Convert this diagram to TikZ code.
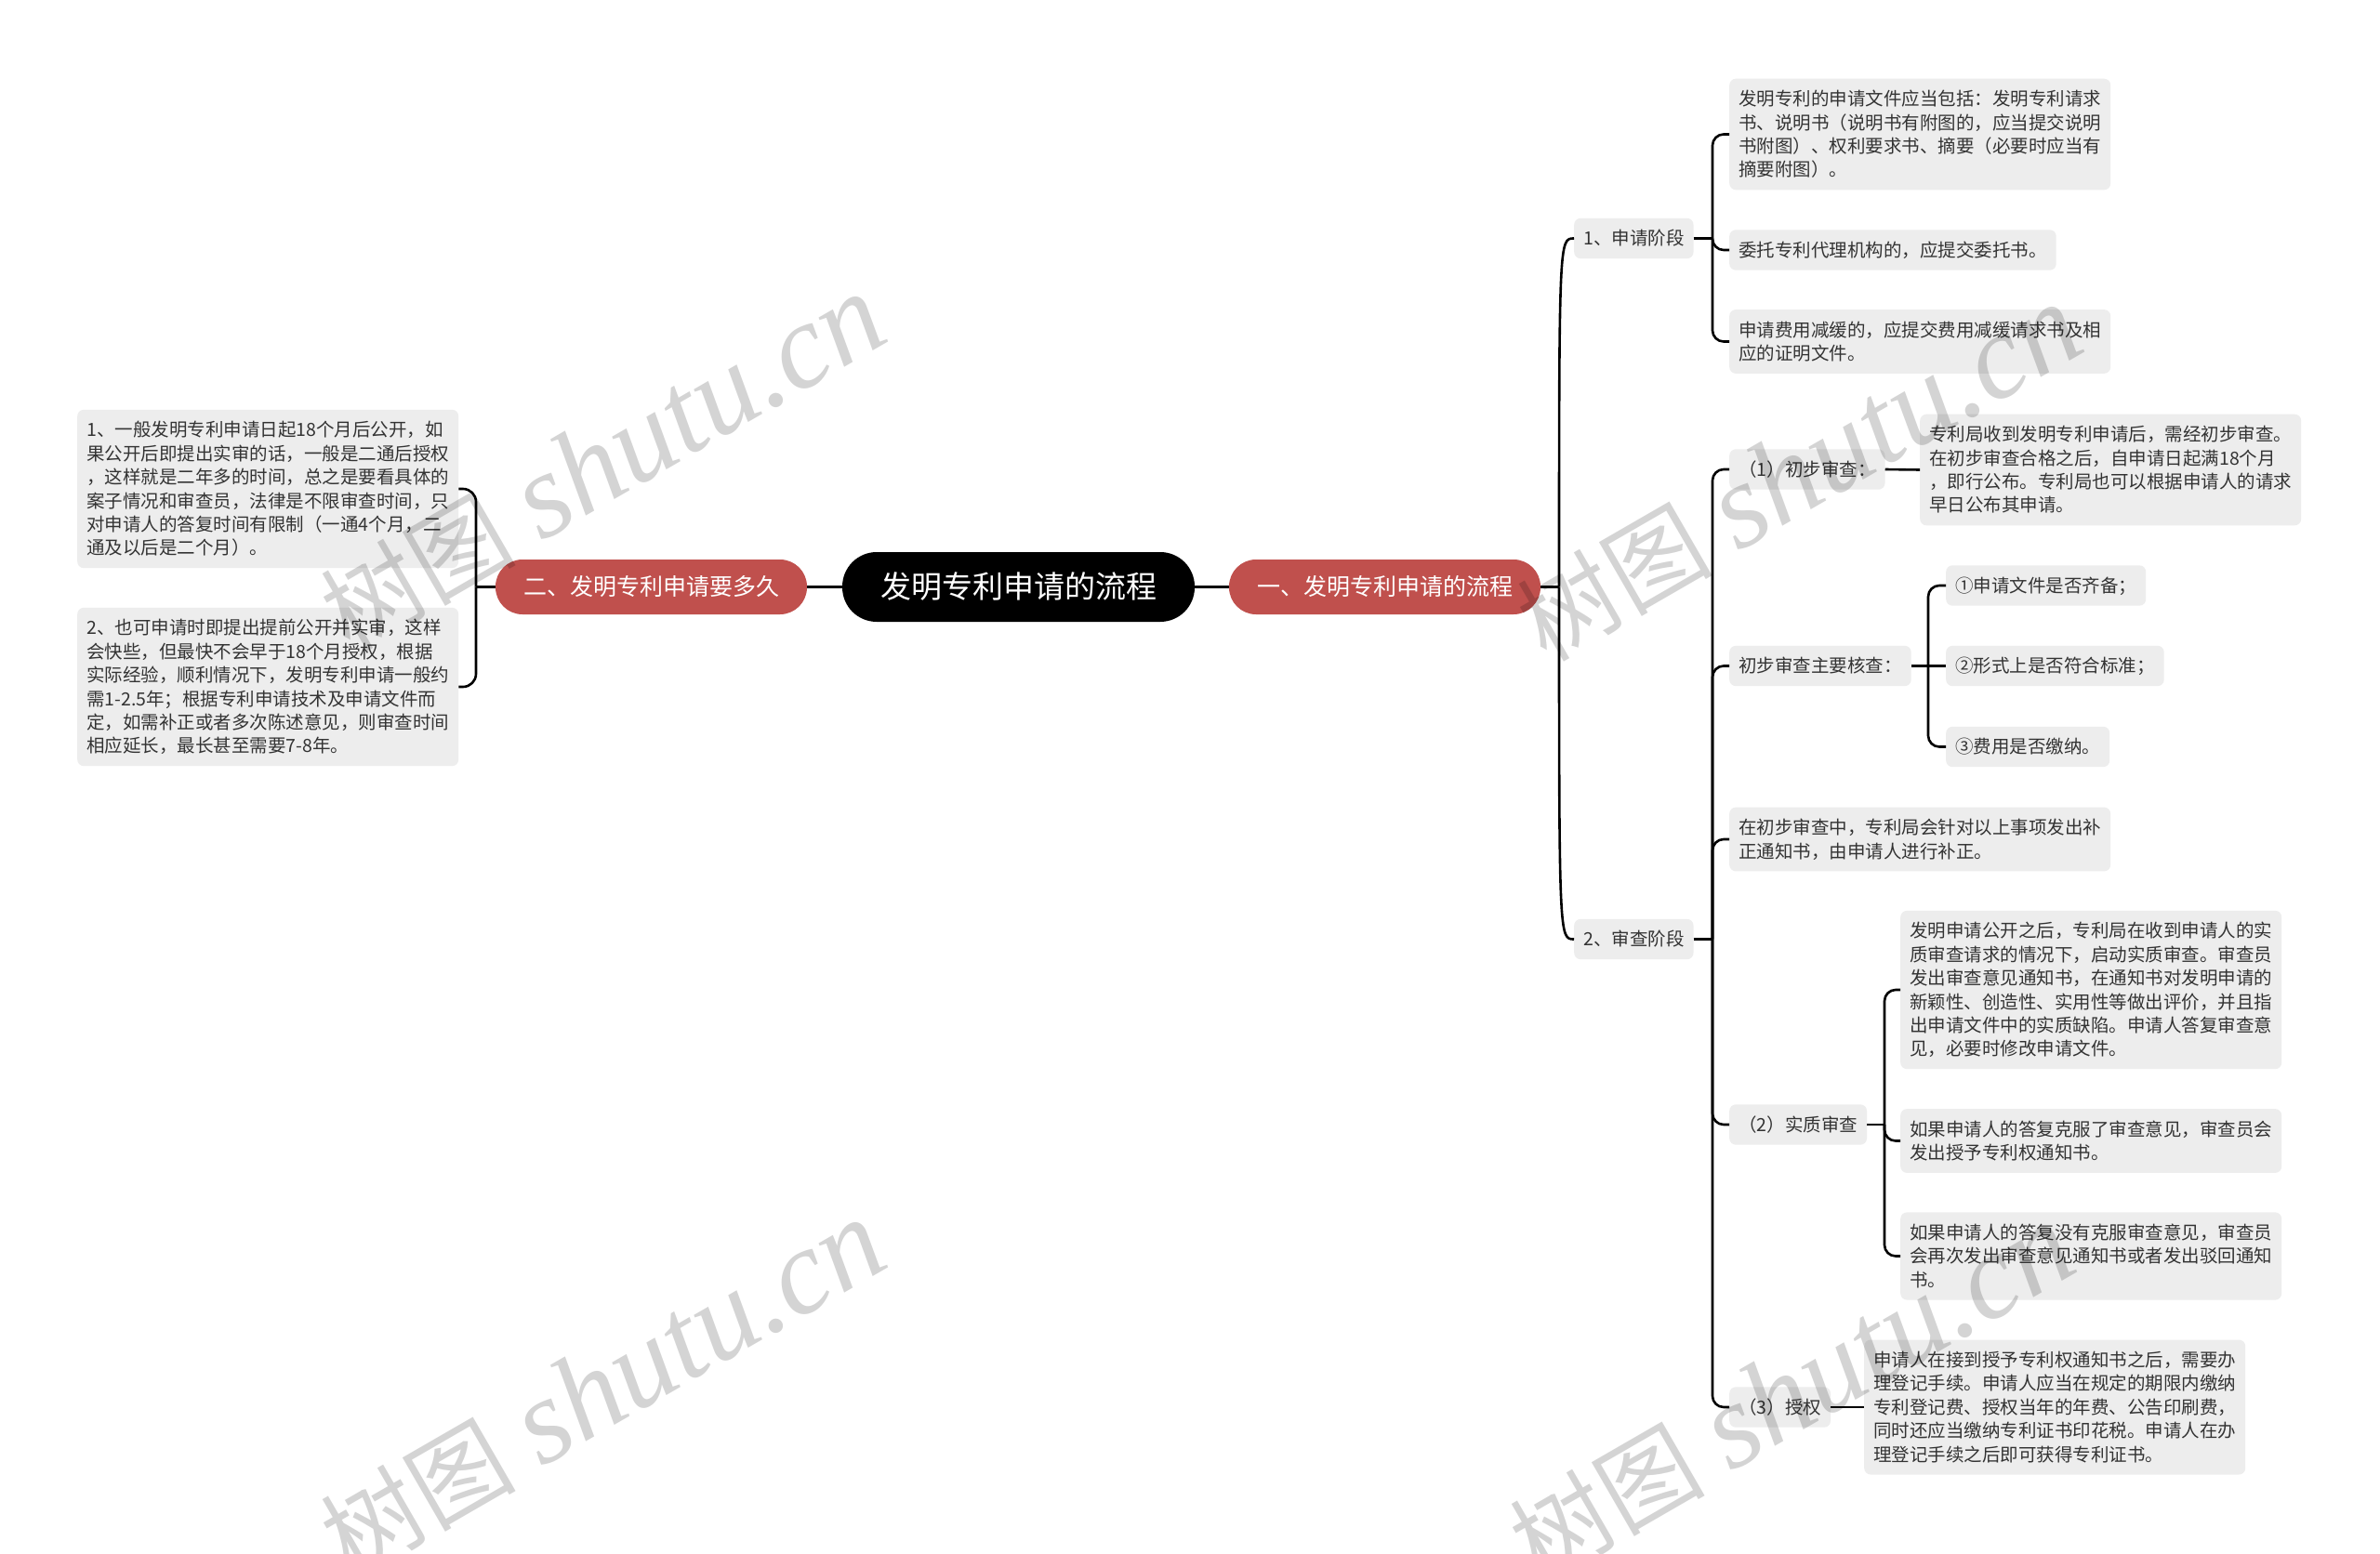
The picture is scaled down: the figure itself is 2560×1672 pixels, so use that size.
\documentclass[tikz,border=0pt]{standalone}
\usepackage{fontspec}
\setmainfont{Noto Sans CJK SC}
\newfontfamily\wmserif{Liberation Serif}
\definecolor{boxgray}{HTML}{EDEDED}
\definecolor{txt}{HTML}{333333}
\definecolor{rednode}{HTML}{C0504D}
\newcommand\ks{\rule[-5.4pt]{0pt}{25.4pt}}
\newcommand\bodyfont{\fontsize{19.5pt}{25.4pt}\selectfont}
\newcommand\wmtext{{\fontsize{105pt}{120pt}\selectfont 树图}\hspace{28pt}{\wmserif\itshape\fontsize{130pt}{150pt}\selectfont shutu.cn}}
\tikzset{
  box/.style={fill=boxgray, rounded corners=7pt, inner xsep=10pt, inner ysep=9pt, align=left, font=\bodyfont, text=txt, anchor=west},
  conn/.style={line width=2.6pt, draw=black},
  rednd/.style={fill=rednode, text=white, rounded corners=29pt, minimum width=335pt, minimum height=59pt, font=\fontsize{25pt}{30pt}\selectfont, inner sep=0pt},
  rootnd/.style={fill=black, text=white, rounded corners=37pt, minimum width=379pt, minimum height=75pt, font=\fontsize{33pt}{40pt}\selectfont, inner sep=0pt},
  wm/.style={rotate=30, text=black, text opacity=0.17, inner sep=0pt}
}
\begin{document}
\begin{tikzpicture}[x=1pt,y=-1pt]
\fill[white] (0,0) rectangle (2560,1672);
\useasboundingbox (0,0) rectangle (2560,1672);

\node[rootnd] (root) at (1095.5,631.5) {发明专利申请的流程};
\node[rednd] (r1) at (1489.5,631.5) {一、发明专利申请的流程};
\node[rednd] (r2) at (700.5,631.5) {二、发明专利申请要多久};

\node[box] (s1) at (1693,256.5) {\ks{}1、申请阶段};
\node[box] (s2) at (1693,1010.5) {\ks{}2、审查阶段};

\node[box] (a1) at (1860,144.5) {\ks{}发明专利的申请文件应当包括：发明专利请求\\\ks{}书、说明书（说明书有附图的，应当提交说明\\\ks{}书附图）、权利要求书、摘要（必要时应当有\\\ks{}摘要附图）。};
\node[box] (a2) at (1860,269) {\ks{}委托专利代理机构的，应提交委托书。};
\node[box] (a3) at (1860,367.5) {\ks{}申请费用减缓的，应提交费用减缓请求书及相\\\ks{}应的证明文件。};

\node[box] (b) at (1860,505) {\ks{}（1）初步审查：};
\node[box] (b1) at (2065,505.5) {\ks{}专利局收到发明专利申请后，需经初步审查。\\\ks{}在初步审查合格之后，自申请日起满18个月\\\ks{}，即行公布。专利局也可以根据申请人的请求\\\ks{}早日公布其申请。};
\node[box] (bc) at (1860,716.5) {\ks{}初步审查主要核查：};
\node[box] (c1) at (2093,630) {\ks{}①申请文件是否齐备；};
\node[box] (c2) at (2093,716.5) {\ks{}②形式上是否符合标准；};
\node[box] (c3) at (2093,803.5) {\ks{}③费用是否缴纳。};
\node[box] (d) at (1860,903) {\ks{}在初步审查中，专利局会针对以上事项发出补\\\ks{}正通知书，由申请人进行补正。};
\node[box] (e) at (1860,1210) {\ks{}（2）实质审查};
\node[box] (e1) at (2044,1065) {\ks{}发明申请公开之后，专利局在收到申请人的实\\\ks{}质审查请求的情况下，启动实质审查。审查员\\\ks{}发出审查意见通知书，在通知书对发明申请的\\\ks{}新颖性、创造性、实用性等做出评价，并且指\\\ks{}出申请文件中的实质缺陷。申请人答复审查意\\\ks{}见，必要时修改申请文件。};
\node[box] (e2) at (2044,1227.5) {\ks{}如果申请人的答复克服了审查意见，审查员会\\\ks{}发出授予专利权通知书。};
\node[box] (e3) at (2044,1351.5) {\ks{}如果申请人的答复没有克服审查意见，审查员\\\ks{}会再次发出审查意见通知书或者发出驳回通知\\\ks{}书。};
\node[box] (g) at (1860,1514) {\ks{}（3）授权};
\node[box] (f) at (2005,1514) {\ks{}申请人在接到授予专利权通知书之后，需要办\\\ks{}理登记手续。申请人应当在规定的期限内缴纳\\\ks{}专利登记费、授权当年的年费、公告印刷费，\\\ks{}同时还应当缴纳专利证书印花税。申请人在办\\\ks{}理登记手续之后即可获得专利证书。};

\node[box] (l1) at (83,526) {\ks{}1、一般发明专利申请日起18个月后公开，如\\\ks{}果公开后即提出实审的话，一般是二通后授权\\\ks{}，这样就是二年多的时间，总之是要看具体的\\\ks{}案子情况和审查员，法律是不限审查时间，只\\\ks{}对申请人的答复时间有限制（一通4个月，二\\\ks{}通及以后是二个月）。};
\node[box] (l2) at (83,739) {\ks{}2、也可申请时即提出提前公开并实审，这样\\\ks{}会快些，但最快不会早于18个月授权，根据\\\ks{}实际经验，顺利情况下，发明专利申请一般约\\\ks{}需1-2.5年；根据专利申请技术及申请文件而\\\ks{}定，如需补正或者多次陈述意见，则审查时间\\\ks{}相应延长，最长甚至需要7-8年。};

% connectors
\draw[conn] (root.west) -- (r2.east);
\draw[conn] (root.east) -- (r1.west);

\coordinate (j0) at (1677,631.5);
\draw[conn] (r1.east) -- (j0);
\draw[conn] (j0) .. controls (j0 |- s1.west) .. (s1.west);
\draw[conn] (j0) .. controls (j0 |- s2.west) .. (s2.west);

\coordinate (jl) at (512,631.5);
\draw[conn] (r2.west) -- (jl);
\draw[conn, rounded corners=14pt] (jl) |- (l1.east);
\draw[conn, rounded corners=14pt] (jl) |- (l2.east);

\coordinate (ja) at (1842,256.5);
\draw[conn] (s1.east) -- (ja);
\foreach \n in {a1,a2,a3} \draw[conn, rounded corners=12pt] (ja) |- (\n.west);

\coordinate (jb) at (1842,1010.5);
\draw[conn] (s2.east) -- (jb);
\foreach \n in {b,bc,d,e,g} \draw[conn, rounded corners=12pt] (jb) |- (\n.west);

\draw[conn] (b.east) -- (b1.west);

\coordinate (jc) at (2074,716.5);
\draw[conn] (bc.east) -- (jc);
\draw[conn] (jc) -- (c2.west);
\foreach \n in {c1,c3} \draw[conn, rounded corners=12pt] (jc) |- (\n.west);

\coordinate (je) at (2027,1210);
\draw[conn] (e.east) -- (je);
\foreach \n in {e1,e2,e3} \draw[conn, rounded corners=12pt] (je) |- (\n.west);

\draw[conn] (g.east) -- (f.west);

% watermarks
\node[wm] (w1) at (648,498) {\wmtext};
\node[wm] (w2) at (648,1494) {\wmtext};
\node[wm] (w3) at (1935,509) {\wmtext};
\node[wm] (w4) at (1927,1499) {\wmtext};
\end{tikzpicture}
\end{document}
